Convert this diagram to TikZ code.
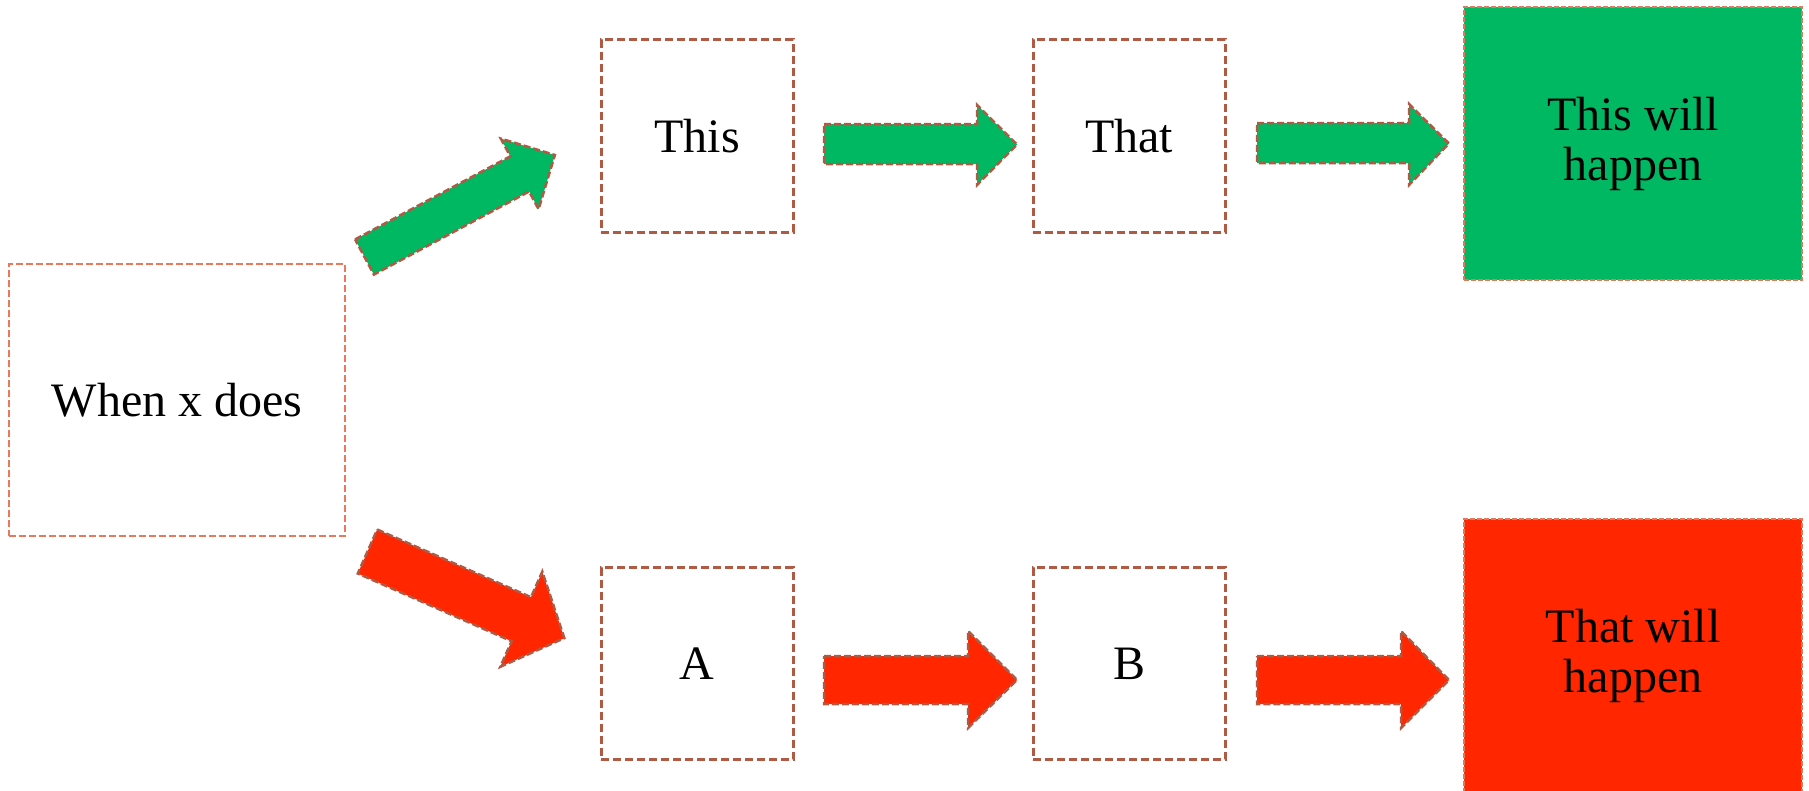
\documentclass[tikz,border=0pt]{standalone}
\usepackage{fontspec}
\setmainfont{Liberation Serif}
\definecolor{gfill}{HTML}{00B862}
\definecolor{rfill}{HTML}{FF2600}
\definecolor{brownline}{HTML}{B05A43}
\definecolor{orangeline}{HTML}{E8795A}
\definecolor{bigline}{HTML}{E07A5F}
\begin{document}
\begin{tikzpicture}[x=1bp,y=-1bp,
  txt/.style={font=\fontsize{48bp}{50bp}\selectfont, align=center, text=black, inner sep=0pt},
  smallbox/.style={txt, draw=brownline, line width=3bp, dash pattern=on 8bp off 4bp, minimum width=192bp, minimum height=192bp},
  whenbox/.style={txt, draw=orangeline, line width=2.5bp, dash pattern=on 7bp off 3bp, minimum width=336bp, minimum height=272bp},
  bigbox/.style={txt, draw=bigline, line width=2bp, dash pattern=on 5bp off 2bp, minimum width=338bp, minimum height=273bp},
  garrow/.style={fill=gfill, draw=brownline, line width=2.5bp, dash pattern=on 7bp off 3bp, line join=miter},
  rarrow/.style={fill=rfill, draw=brownline, line width=2.5bp, dash pattern=on 7bp off 3bp, line join=miter}]
\useasboundingbox (0,0) rectangle (1809,791);
% boxes
\node[whenbox] (when) at (177,400) {When x does};
\node[smallbox] (this) at (697,136) {\raisebox{-3bp}{This}};
\node[smallbox] (that) at (1129,136) {\raisebox{-3bp}{That}};
\node[bigbox, fill=gfill] (good) at (1633,143.5) {This will\\happen};
\node[smallbox] (a) at (697,663.5) {\raisebox{-3bp}{A}};
\node[smallbox] (b) at (1129,663.5) {\raisebox{-3bp}{B}};
\node[bigbox, fill=rfill] (bad) at (1633,655.5) {That will\\happen};
% green arrows
\draw[garrow] (355.1,239.4) -- (510.3,156.3) -- (500.8,138.6) -- (554.9,155.0) -- (538.6,209.2) -- (529.1,191.5) -- (373.9,274.6) -- cycle;
\draw[garrow] (824,124) -- (977,124) -- (977,105) -- (1017,144.5) -- (977,185) -- (977,164) -- (824,164) -- cycle;
\draw[garrow] (1257,123) -- (1409,123) -- (1409,104) -- (1449,143.5) -- (1409,185) -- (1409,163) -- (1257,163) -- cycle;
% red arrows
\draw[rarrow] (377.2,529.5) -- (531.0,597.2) -- (542.3,571.6) -- (564.3,638.1) -- (500.3,666.8) -- (511.6,641.2) -- (357.8,573.5) -- cycle;
\draw[rarrow] (824,656) -- (968,656) -- (968,631) -- (1017,680) -- (968,728) -- (968,704) -- (824,704) -- cycle;
\draw[rarrow] (1257,656) -- (1401,656) -- (1401,631) -- (1449,680) -- (1401,728) -- (1401,704) -- (1257,704) -- cycle;
\end{tikzpicture}
\end{document}
